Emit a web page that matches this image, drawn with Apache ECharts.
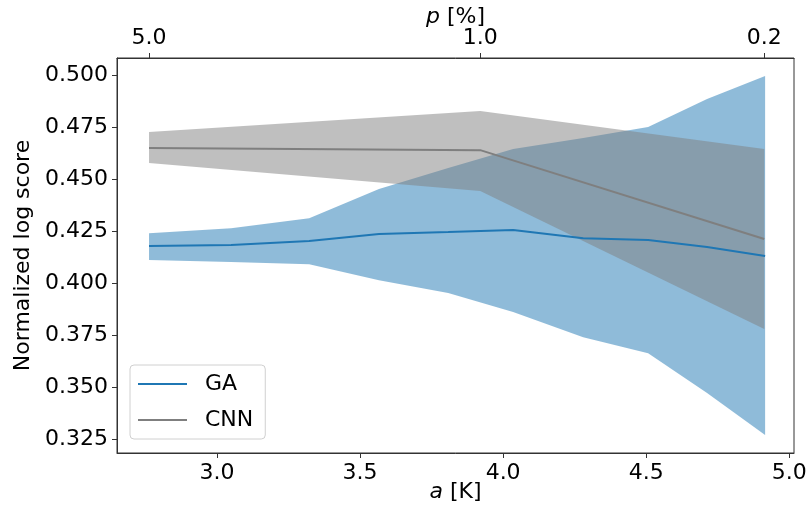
<!DOCTYPE html>
<html>
<head>
<meta charset="utf-8">
<script src="https://cdn.jsdelivr.net/npm/echarts@6/dist/echarts.min.js"></script>
<style>
  html, body { margin: 0; padding: 0; background: #fff; }
  #chart { width: 810px; height: 519px; }
</style>
</head>
<body>
<div id="chart"></div>
<script>
// Bottom axis: a [K]
const aTicks = [3.0, 3.5, 4.0, 4.5, 5.0];
// Top axis: p [%] labels placed at their a positions
const pTickPositions = [2.762, 3.920, 4.913];
const pTickLabels = ['5.0', '1.0', '0.2'];
// Left axis ticks
const scoreTicks = [0.325, 0.350, 0.375, 0.400, 0.425, 0.450, 0.475, 0.500];

// GA: mean with lower/upper envelope
const gaA    = [2.762, 3.049, 3.322, 3.566, 3.808, 4.035, 4.280, 4.507, 4.713, 4.916];
const gaMean = [0.4178, 0.4183, 0.4202, 0.4236, 0.4245, 0.4255, 0.4216, 0.4207, 0.4173, 0.4130];
const gaLow  = [0.4111, 0.4101, 0.4091, 0.4014, 0.3952, 0.3861, 0.3740, 0.3663, 0.3471, 0.3269];
const gaHigh = [0.4240, 0.4264, 0.4312, 0.4452, 0.4553, 0.4644, 0.4697, 0.4750, 0.4885, 0.4995];

// CNN: mean with lower/upper envelope
const cnnA    = [2.762, 3.920, 4.913];
const cnnMean = [0.4649, 0.4639, 0.4212];
const cnnLow  = [0.4577, 0.4442, 0.3779];
const cnnHigh = [0.4726, 0.4827, 0.4644];

const FONT = 'DejaVu Sans';
const AXIS_COLOR = '#333';

function bandSeries(xs, lo, hi, fill, z) {
  return {
    type: 'custom',
    silent: true,
    z: z,
    data: xs.map((x, i) => [x, lo[i], hi[i]]),
    encode: { x: 0, y: [1, 2] },
    renderItem: function (params, api) {
      if (params.dataIndex !== 0) return;
      const n = xs.length;
      const pts = [];
      for (let i = 0; i < n; i++) pts.push(api.coord([api.value(0, i), api.value(2, i)]));
      for (let i = n - 1; i >= 0; i--) pts.push(api.coord([api.value(0, i), api.value(1, i)]));
      return { type: 'polygon', shape: { points: pts }, style: { fill: fill } };
    }
  };
}

function lineSeries(name, xs, ys, color) {
  return {
    type: 'line',
    name: name,
    z: 5,
    showSymbol: false,
    symbol: 'none',
    data: xs.map((x, i) => [x, ys[i]]),
    lineStyle: { color: color, width: 2 },
    itemStyle: { color: color }
  };
}

const chart = echarts.init(document.getElementById('chart'), null, { renderer: 'canvas' });
chart.setOption({
  animation: false,
  backgroundColor: '#fff',
  textStyle: { fontFamily: FONT },
  grid: {
    left: 117, right: 16, top: 58, bottom: 66,
    containLabel: false, outerBoundsMode: 'none',
    show: true, borderColor: AXIS_COLOR, borderWidth: 1
  },
  legend: {
    data: ['GA', 'CNN'],
    orient: 'vertical',
    left: 130,
    top: 365,
    padding: [8, 12, 8, 8],
    itemGap: 14,
    itemWidth: 49,
    itemHeight: 2,
    icon: 'rect',
    backgroundColor: 'rgba(255,255,255,0.8)',
    borderColor: '#d0d0d0',
    borderWidth: 1,
    borderRadius: 4,
    textStyle: { fontFamily: FONT, fontSize: 22, color: '#000', padding: [0, 0, 0, 13] }
  },
  xAxis: [
    {
      type: 'value',
      position: 'bottom',
      min: 2.65,
      max: 5.017,
      name: '{i|a} [K]',
      nameLocation: 'middle',
      nameGap: 28,
      nameMoveOverlap: false,
      nameTextStyle: {
        fontFamily: FONT, fontSize: 22, color: '#000',
        rich: { i: { fontStyle: 'italic', fontFamily: FONT, fontSize: 22, color: '#000' } }
      },
      axisLine: { show: true, lineStyle: { color: AXIS_COLOR, width: 1 } },
      axisTick: { show: true, inside: false, length: 5, lineStyle: { color: AXIS_COLOR }, customValues: aTicks },
      axisLabel: { fontFamily: FONT, fontSize: 22, color: '#000', margin: 9, customValues: aTicks,
        formatter: v => v.toFixed(1) },
      splitLine: { show: false }
    },
    {
      type: 'value',
      position: 'top',
      min: 2.65,
      max: 5.017,
      name: '{i|p} [%]',
      nameLocation: 'middle',
      nameGap: 30,
      nameMoveOverlap: false,
      nameTextStyle: {
        fontFamily: FONT, fontSize: 22, color: '#000',
        rich: { i: { fontStyle: 'italic', fontFamily: FONT, fontSize: 22, color: '#000' } }
      },
      axisLine: { show: true, lineStyle: { color: AXIS_COLOR, width: 1 } },
      axisTick: { show: true, inside: false, length: 5, lineStyle: { color: AXIS_COLOR }, customValues: pTickPositions },
      axisLabel: { fontFamily: FONT, fontSize: 22, color: '#000', margin: 9, customValues: pTickPositions,
        formatter: v => {
          const k = pTickPositions.findIndex(p => Math.abs(p - v) < 1e-6);
          return k >= 0 ? pTickLabels[k] : '';
        } },
      splitLine: { show: false }
    }
  ],
  yAxis: {
    type: 'value',
    min: 0.3183,
    max: 0.5082,
    name: 'Normalized log score',
    nameLocation: 'middle',
    nameGap: 66,
    nameTextStyle: { fontFamily: FONT, fontSize: 22, color: '#000' },
    axisLine: { show: true, lineStyle: { color: AXIS_COLOR, width: 1 } },
    axisTick: { show: true, inside: false, length: 5, lineStyle: { color: AXIS_COLOR }, customValues: scoreTicks },
    axisLabel: { fontFamily: FONT, fontSize: 22, color: '#000', margin: 9, customValues: scoreTicks,
      formatter: v => v.toFixed(3) },
    splitLine: { show: false }
  },
  series: [
    bandSeries(gaA, gaLow, gaHigh, 'rgba(31,119,180,0.5)', 1),
    bandSeries(cnnA, cnnLow, cnnHigh, 'rgba(127,127,127,0.5)', 2),
    lineSeries('GA', gaA, gaMean, '#1f77b4'),
    lineSeries('CNN', cnnA, cnnMean, '#7f7f7f')
  ]
});
</script>
</body>
</html>
